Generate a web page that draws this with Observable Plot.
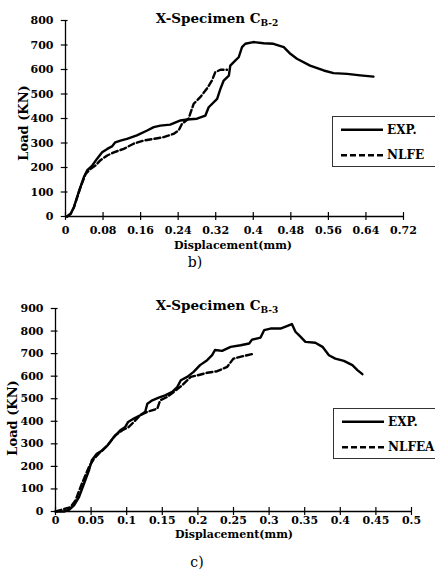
<!DOCTYPE html>
<html>
<head>
<meta charset="utf-8">
<script src="https://cdn.jsdelivr.net/npm/d3@7"></script>
<script src="https://cdn.jsdelivr.net/npm/@observablehq/plot@0.6"></script>
<style>
  html, body { margin:0; padding:0; background:#fff; }
  body { width:435px; height:577px; overflow:hidden; position:relative; font-family:"DejaVu Serif", serif; color:#000; }
  .abs { position:absolute; white-space:nowrap; }
  .title { font-weight:bold; font-size:13.5px; transform:translate(-50%,-50%); }
  .title sub { font-size:9px; vertical-align:-3px; }
  .xlab { font-weight:bold; font-size:11px; transform:translate(-50%,-50%); }
  .ylab { font-weight:bold; font-size:13px; transform:translate(-50%,-50%) rotate(-90deg); }
  .cap { font-size:14px; transform:translate(-50%,-50%); }
  .legend { border:1px solid #333; width:120px; box-sizing:border-box; }
  .legend svg { position:absolute; left:0; top:0; }
  svg.plot { position:absolute; left:0; }
</style>
</head>
<body>
<script>
// ---------- Chart b) X-Specimen CB-2 ----------
const xTicks1 = [0, 0.08, 0.16, 0.24, 0.32, 0.4, 0.48, 0.56, 0.64, 0.72];
const yTicks1 = [0, 100, 200, 300, 400, 500, 600, 700, 800];
const exp1X = [0.0035,0.011,0.018,0.028,0.039,0.046,0.057,0.067,0.078,0.089,0.099,0.106,0.117,0.131,0.152,0.174,0.188,0.202,0.223,0.245,0.259,0.28,0.298,0.305,0.323,0.33,0.337,0.348,0.351,0.362,0.369,0.376,0.383,0.4,0.422,0.443,0.465,0.479,0.493,0.521,0.55,0.571,0.6,0.628,0.656];
const exp1Y = [0,11,38,99,160,188,208,235,262,276,286,303,310,317,331,351,365,371,375,392,396,399,412,446,480,521,555,575,616,637,650,691,705,712,707,705,691,664,644,616,596,585,582,576,571];
const nlfe1X = [0.0035,0.011,0.018,0.032,0.043,0.053,0.064,0.074,0.089,0.103,0.124,0.145,0.167,0.188,0.209,0.23,0.241,0.248,0.262,0.273,0.287,0.301,0.312,0.319,0.33,0.344];
const nlfe1Y = [0,11,38,120,174,194,208,229,249,262,276,297,310,317,324,337,351,378,399,460,487,521,555,589,599,599];

// ---------- Chart c) X-Specimen CB-3 ----------
const xTicks2 = [0, 0.05, 0.1, 0.15, 0.2, 0.25, 0.3, 0.35, 0.4, 0.45, 0.5];
const yTicks2 = [0, 100, 200, 300, 400, 500, 600, 700, 800, 900];
const exp2X = [0,0.012,0.019,0.026,0.033,0.04,0.047,0.051,0.058,0.066,0.073,0.082,0.091,0.098,0.102,0.11,0.119,0.126,0.129,0.136,0.145,0.154,0.164,0.171,0.176,0.185,0.194,0.203,0.213,0.22,0.224,0.234,0.246,0.26,0.272,0.276,0.288,0.293,0.302,0.316,0.325,0.332,0.337,0.344,0.351,0.365,0.375,0.384,0.393,0.405,0.417,0.424,0.431];
const exp2Y = [0,0,7,27,64,123,182,227,256,271,293,330,360,375,397,412,427,442,478,493,505,515,530,552,582,597,619,649,671,693,716,712,730,737,745,762,771,804,811,811,822,831,797,775,752,748,730,693,678,668,649,627,609];
const nlfea2X = [0,0.021,0.028,0.037,0.047,0.054,0.063,0.073,0.084,0.094,0.103,0.11,0.119,0.129,0.143,0.147,0.157,0.166,0.178,0.19,0.2,0.213,0.227,0.241,0.25,0.264,0.279];
const nlfea2Y = [0,19,49,123,197,234,264,293,338,360,375,397,427,442,456,493,508,530,560,597,604,615,622,641,678,689,700];

const zip = (xs, ys) => xs.map((x, i) => ({x, y: ys[i]}));

function chart({xTicks, yTicks, exp, fe, xDomain, yDomain, height, margins, yTickLen, xTickLen, xPad}) {
  const fmt = d => String(d);
  const svg = Plot.plot({
    width: 435, height,
    marginLeft: margins[0], marginTop: margins[1], marginRight: margins[2], marginBottom: margins[3],
    x: {domain: xDomain},
    y: {domain: yDomain},
    style: {fontFamily: "DejaVu Serif", fontWeight: "bold", fontSize: "11px", color: "#000", background: "transparent", overflow: "visible"},
    marks: [
      Plot.axisX(xTicks, {tickSize: 0, tickPadding: xPad, label: null, tickFormat: fmt}),
      Plot.axisY(yTicks, {tickSize: 0, tickPadding: 12, label: null, tickFormat: fmt}),
      Plot.ruleX(xTicks, {x: d => d, y1: -xTickLen, y2: xTickLen, stroke: "#000", strokeWidth: 1.2}),
      Plot.ruleY(yTicks, {y: d => d, x1: -yTickLen, x2: yTickLen * 0.6, stroke: "#000", strokeWidth: 1.2}),
      Plot.ruleY([0], {stroke: "#000", strokeWidth: 1.3}),
      Plot.ruleX([0], {stroke: "#000", strokeWidth: 1.3}),
      Plot.line(fe, {x: "x", y: "y", stroke: "#000", strokeWidth: 2.4, strokeDasharray: "6,3"}),
      Plot.line(exp, {x: "x", y: "y", stroke: "#000", strokeWidth: 2.4})
    ]
  });
  svg.classList.add("plot");
  return svg;
}

const c1 = chart({
  xTicks: xTicks1, yTicks: yTicks1,
  exp: zip(exp1X, exp1Y), fe: zip(nlfe1X, nlfe1Y),
  xDomain: [0, 0.72], yDomain: [0, 800],
  height: 270, margins: [65, 20, 32, 54], yTickLen: 0.009, xTickLen: 16, xPad: 10
});
c1.style.top = "0px";
document.body.appendChild(c1);

const c2 = chart({
  xTicks: xTicks2, yTicks: yTicks2,
  exp: zip(exp2X, exp2Y), fe: zip(nlfea2X, nlfea2Y),
  xDomain: [0, 0.5], yDomain: [0, 900],
  height: 260, margins: [55, 18, 24, 39], yTickLen: 0.006, xTickLen: 18, xPad: 5
});
c2.style.top = "290px";
document.body.appendChild(c2);

function addDiv(cls, html, left, top) {
  const d = document.createElement("div");
  d.className = "abs " + cls;
  d.innerHTML = html;
  d.style.left = left + "px";
  d.style.top = top + "px";
  document.body.appendChild(d);
  return d;
}

addDiv("title", "X-Specimen C<sub>B-2</sub>", 217, 19);
addDiv("xlab", "Displacement(mm)", 233, 245);
addDiv("ylab", "Load (KN)", 23, 123);
addDiv("cap", "b)", 195, 262);

addDiv("title", "X-Specimen C<sub>B-3</sub>", 217, 306);
addDiv("xlab", "Displacement(mm)", 234, 534);
addDiv("ylab", "Load (KN)", 12, 418);
addDiv("cap", "c)", 197, 562);

const legendSeries1 = ["EXP.", "NLFE"];
const legendSeries2 = ["EXP.", "NLFEA"];
function legend(names, left, top, h) {
  const box = addDiv("legend", "", left, top);
  box.style.height = h + "px";
  const s = d3.select(box).append("svg").attr("width", 120).attr("height", h);
  const rows = [h * 0.25, h * 0.75];
  names.forEach((n, i) => {
    s.append("line").attr("x1", 8).attr("x2", 50).attr("y1", rows[i]).attr("y2", rows[i])
      .attr("stroke", "#000").attr("stroke-width", 2.4)
      .attr("stroke-dasharray", i === 1 ? "6,3" : null);
    s.append("text").attr("x", 54).attr("y", rows[i]).attr("dy", "0.35em")
      .attr("font-family", "DejaVu Serif").attr("font-weight", "bold").attr("font-size", 12)
      .text(n);
  });
}
legend(legendSeries1, 332, 116, 51);
legend(legendSeries2, 333, 408, 51);
</script>
</body>
</html>
